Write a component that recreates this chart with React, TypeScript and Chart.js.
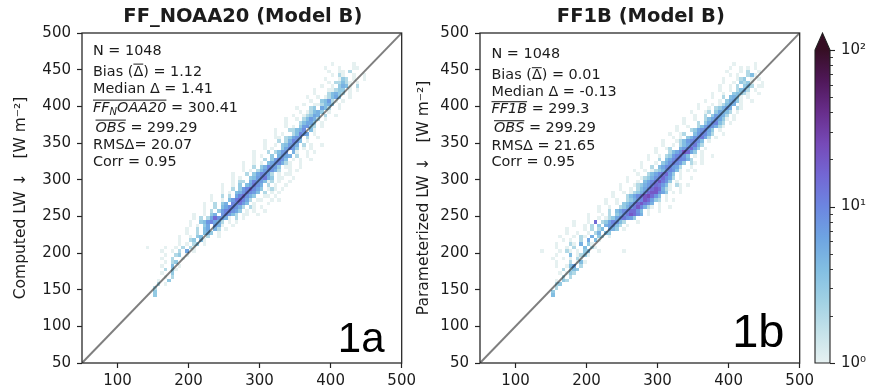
import React, { useEffect, useRef } from 'react';
import { Chart, registerables } from 'chart.js';

Chart.register(...registerables);

const FONT = "'DejaVu Sans', 'Noto Sans', sans-serif";
const PANEL_FONT = "'Liberation Sans', Arial, sans-serif";
const TEXT_COLOR = '#1c1c1c';

// ---------- axes ----------
const AXIS_MIN = 50;
const AXIS_MAX = 500;
const BIN_WIDTH = 5;
const X_TICKS = [100, 200, 300, 400, 500];
const Y_TICKS = [50, 100, 150, 200, 250, 300, 350, 400, 450, 500];
const ONE_TO_ONE = [50, 500];

// ---------- colorbar ----------
const CBAR_MIN = 1;
const CBAR_MAX = 100;
const CBAR_MAJOR = [1, 10, 100];
const CBAR_MAJOR_LABELS = ['10⁰', '10¹', '10²'];
const CBAR_MINOR = [2, 3, 4, 5, 6, 7, 8, 9, 20, 30, 40, 50, 60, 70, 80, 90];

// cmocean "dense"-like colormap stops: [fraction, r, g, b]
const CMAP_STOPS: [number, number, number, number][] = [
  [0.0, 230, 241, 241],
  [0.1, 196, 226, 233],
  [0.2, 160, 209, 228],
  [0.3, 130, 190, 226],
  [0.4, 110, 164, 226],
  [0.5, 108, 134, 224],
  [0.6, 115, 103, 212],
  [0.7, 118, 74, 184],
  [0.8, 104, 46, 140],
  [0.9, 80, 24, 90],
  [1.0, 54, 14, 36],
];

// count codes in the row strings: '.' empty, digits = counts, letters = larger counts
const COUNT_CODES: Record<string, number> = { a: 10, b: 12, c: 15, d: 20, e: 25, f: 30 };

// ---------- 2D histogram rows: [y bin low edge, x of first bin, counts per 5-W bin] ----------
const ROWS_A: [number, number, string][] = [
  [455, 400, '1.....1'],
  [450, 390, '1...1...11'],
  [445, 395, '1..11.2'],
  [440, 395, '.1.21..1..1'],
  [435, 390, '1...132.1..1'],
  [430, 385, '..1.22421.1'],
  [425, 385, '1..1.3541.2'],
  [420, 375, '1...11233.1.1'],
  [415, 370, '.1...24532.1'],
  [410, 365, '1..1.12463..1'],
  [405, 360, '..1..34721.1'],
  [400, 355, '.1..112453.1'],
  [395, 350, '1...23.642..1'],
  [390, 345, '..1.12453.1'],
  [385, 340, '.1..12365.2..1'],
  [380, 335, '1..1.24752.1'],
  [375, 330, '.1...24663.1'],
  [370, 325, '..1.1.37832.1'],
  [365, 320, '1...22459.41'],
  [360, 315, '.1.1..24a76.1'],
  [355, 310, '..11.23687.2..1'],
  [350, 305, '1...2.25a84.1'],
  [345, 300, '.1..1.34785.2.1..1'],
  [340, 295, '..1.1..36a73.1.1'],
  [335, 290, '1...2.2478.51..1.1'],
  [330, 285, '.1.1..3.5865.2..1'],
  [325, 280, '..1..2.37a84.1.1..1'],
  [320, 275, '1..1.1.4689521..1'],
  [315, 270, '.1..2.35a873.11..1'],
  [310, 265, '..1.1.2479852..1.1'],
  [305, 260, '1...2.36a962.1.11'],
  [300, 255, '.1.1..3479b53.11..1'],
  [295, 250, '..1.22.5a87412.1..1'],
  [290, 245, '1..1.3.46b85.2.1..1'],
  [285, 240, '.1..2.37ac963.121.1'],
  [280, 235, '..1.1.458b974.2.1.1'],
  [275, 230, '1..2.2.6ac853..11.1'],
  [270, 225, '.1..1.47bca62.11..1.1'],
  [265, 220, '1..2.35.a8b74.1...1'],
  [260, 215, '.1..2.469a852.21.1'],
  [255, 210, '..1.2.37ab863.1.1..1'],
  [250, 205, '1..1.35.8a742.11..1'],
  [245, 200, '.1.2.26c8751.2.1'],
  [240, 200, '1..348a652.1.1'],
  [235, 195, '.1.1.36.751..1'],
  [230, 195, '1..2.46.52.1'],
  [225, 190, '.1..2.453.1'],
  [220, 185, '1..1.34.2..1'],
  [215, 180, '.1..23.41'],
  [210, 175, '..1.1.23.1'],
  [205, 140, '1....1..1.2.21'],
  [200, 160, '1..1.2.6.1'],
  [195, 160, '.1..23.1'],
  [190, 160, '1..2..1'],
  [185, 160, '.1.23'],
  [180, 160, '1..4.1'],
  [175, 160, '.2.31'],
  [170, 160, '1..3'],
  [165, 160, '.1.2'],
  [160, 155, '1..3'],
  [155, 155, '2.1'],
  [150, 150, '2'],
  [145, 150, '3'],
  [140, 150, '3'],
];

const ROWS_B: [number, number, string][] = [
  [455, 405, '1.....1'],
  [450, 400, '1..1.1.1'],
  [445, 395, '1...1.2..1'],
  [440, 395, '.1.1..241'],
  [435, 390, '1...123.1.1'],
  [430, 385, '.1..1.3231..1'],
  [425, 385, '1..1.2.342.11'],
  [420, 380, '.1..1.2452.1'],
  [415, 375, '1..1..34321..1'],
  [410, 370, '.1..2.4541.1'],
  [405, 365, '1...1.35631..1'],
  [400, 355, '1...1.12465.1'],
  [395, 350, '.1..1.23575.21'],
  [390, 345, '1...12.36542.1'],
  [385, 340, '..1..2.37652.1'],
  [380, 335, '1..1..2468631.1'],
  [375, 330, '.1...2.369a42.1'],
  [370, 325, '1..1..24798521'],
  [365, 320, '.1...2368a63.1'],
  [360, 315, '1..12..47a952..1'],
  [355, 310, '..1.1.3589b62.1'],
  [350, 305, '1...12479a84.1'],
  [345, 300, '.1..1.2469b52'],
  [340, 295, '1..12..57ac73.1'],
  [335, 290, '.1...2469dc63.1'],
  [330, 285, '1..1.237ab84.1.1..1'],
  [325, 280, '.1..2.469ba952..1'],
  [320, 275, '1...1.358b973.21.1'],
  [315, 270, '.1..2.469a762..1'],
  [310, 265, '1..1.12358a841.1.1'],
  [305, 260, '..1..2469bc73.1'],
  [300, 255, '1...12358ac962.1..1'],
  [295, 250, '.1..1.469bdb83.1'],
  [290, 245, '1...12357acb741.21.1'],
  [285, 240, '.1..1.2469cdc521..1'],
  [280, 235, '1..1.12358cdd963.1.1'],
  [275, 230, '.1...2469bdec84.1'],
  [270, 225, '1..1..2358adc732.1.1'],
  [265, 220, '.1..1.3469cdb95.1'],
  [260, 215, '1..1..2358bda521.1..1'],
  [255, 210, '.1..2.469acc84.1..1'],
  [250, 200, '1...1.2.358bdc95.1'],
  [245, 195, '.1..1.12369b873'],
  [240, 180, '1...1.c.236a842...1'],
  [235, 175, '.1..1.2.3.57842.1'],
  [230, 170, '1....1.2.24.653.1'],
  [225, 165, '.1..1..1.25.43'],
  [220, 160, '1...1.21.5.32.1'],
  [215, 160, '.1.1..2.6.41'],
  [210, 155, '1...21.5.31'],
  [205, 150, '.1..1.2..4.21'],
  [200, 135, '1....1.21.1.34..1......1'],
  [195, 150, '.1...4.1231'],
  [190, 150, '1..1.1.21'],
  [185, 150, '.1...2.141'],
  [180, 155, '1..146.2'],
  [175, 160, '.2.243'],
  [170, 160, '1.132'],
  [165, 160, '.2.2'],
  [160, 155, '1.32'],
  [155, 155, '23'],
  [150, 150, '.2'],
  [145, 150, '3'],
  [140, 150, '4'],
];

// ---------- texts ----------
type Seg = { t: string; it?: boolean; sub?: boolean; ov?: boolean; dx?: number };

const TITLE_A = 'FF_NOAA20 (Model B)';
const TITLE_B = 'FF1B (Model B)';
const YLABEL_A = 'Computed LW ↓   [W m⁻²]';
const YLABEL_B = 'Parameterized LW ↓   [W m⁻²]';
const PANEL_A = '1a';
const PANEL_B = '1b';

const STATS_A: Seg[][] = [
  [{ t: 'N = 1048' }],
  [{ t: 'Bias (' }, { t: 'Δ', ov: true }, { t: ') = 1.12' }],
  [{ t: 'Median Δ = 1.41' }],
  [{ t: 'FF', it: true, ov: true }, { t: 'N', it: true, sub: true, ov: true }, { t: 'OAA20', it: true, ov: true }, { t: ' = 300.41' }],
  [{ t: '', dx: 2.5 }, { t: 'OBS', it: true, ov: true }, { t: ' = 299.29' }],
  [{ t: 'RMSΔ= 20.07' }],
  [{ t: 'Corr = 0.95' }],
];

const STATS_B: Seg[][] = [
  [{ t: 'N = 1048' }],
  [{ t: 'Bias (' }, { t: 'Δ', ov: true }, { t: ') = 0.01' }],
  [{ t: 'Median Δ = -0.13' }],
  [{ t: 'FF1B', it: true, ov: true }, { t: ' = 299.3' }],
  [{ t: '', dx: 2.5 }, { t: 'OBS', it: true, ov: true }, { t: ' = 299.29' }],
  [{ t: 'RMSΔ = 21.65' }],
  [{ t: 'Corr = 0.95' }],
];

// ---------- helpers ----------
function cmap(f: number): string {
  const t = Math.max(0, Math.min(1, f));
  for (let i = 1; i < CMAP_STOPS.length; i++) {
    const [t1, r1, g1, b1] = CMAP_STOPS[i];
    const [t0, r0, g0, b0] = CMAP_STOPS[i - 1];
    if (t <= t1) {
      const u = (t - t0) / (t1 - t0);
      return `rgb(${Math.round(r0 + (r1 - r0) * u)},${Math.round(g0 + (g1 - g0) * u)},${Math.round(b0 + (b1 - b0) * u)})`;
    }
  }
  const l = CMAP_STOPS[CMAP_STOPS.length - 1];
  return `rgb(${l[1]},${l[2]},${l[3]})`;
}

function decodeCount(ch: string): number {
  if (ch === '.') return 0;
  if (ch >= '0' && ch <= '9') return Number(ch);
  return COUNT_CODES[ch] || 0;
}

function countFraction(n: number): number {
  return (Math.log10(n) - Math.log10(CBAR_MIN)) / (Math.log10(CBAR_MAX) - Math.log10(CBAR_MIN));
}

function drawSegs(ctx: CanvasRenderingContext2D, segs: Seg[], x: number, baseline: number, size: number) {
  let cx = x;
  const runs: [number, number][] = [];
  let ovStart: number | null = null;
  let ovEnd = 0;
  for (const s of segs) {
    cx += s.dx || 0;
    const fs = s.sub ? size * 0.7 : size;
    ctx.font = `${s.it ? 'italic ' : ''}${fs}px ${FONT}`;
    const y = s.sub ? baseline + size * 0.22 : baseline;
    ctx.fillText(s.t, cx, y);
    const w = ctx.measureText(s.t).width;
    if (s.ov) {
      if (ovStart === null) ovStart = cx;
      ovEnd = cx + w;
    } else if (ovStart !== null) {
      runs.push([ovStart, ovEnd]);
      ovStart = null;
    }
    cx += w;
  }
  if (ovStart !== null) runs.push([ovStart, ovEnd]);
  for (const [a, b] of runs) ctx.fillRect(a, baseline - size * 0.84, b - a, 1);
}

type PanelSpec = {
  rows: [number, number, string][];
  title: string;
  ylabel: string;
  ylabelPad: number;
  stats: Seg[][];
  statsDx: number;
  statsBaselines: number[];
  panel: string;
  panelSize: number;
  panelRight: number;
  panelBaseline: number;
};

const SPEC_A: PanelSpec = {
  rows: ROWS_A,
  title: TITLE_A,
  ylabel: YLABEL_A,
  ylabelPad: 12,
  stats: STATS_A,
  statsDx: 11,
  statsBaselines: [22, 42.7, 60.3, 78.7, 98.7, 116.3, 132.7],
  panel: PANEL_A,
  panelSize: 42,
  panelRight: 302.5,
  panelBaseline: 319,
};

const SPEC_B: PanelSpec = {
  rows: ROWS_B,
  title: TITLE_B,
  ylabel: YLABEL_B,
  ylabelPad: 17,
  stats: STATS_B,
  statsDx: 11.5,
  statsBaselines: [25.3, 46.3, 63, 80.3, 99.3, 117, 133],
  panel: PANEL_B,
  panelSize: 47,
  panelRight: 304.5,
  panelBaseline: 314,
};

function panelConfig(spec: PanelSpec): any {
  const heatmap = {
    id: 'heatmap',
    beforeDatasetsDraw(chart: any) {
      const { ctx, chartArea: a, scales } = chart;
      const xs = scales.x;
      const ys = scales.y;
      ctx.save();
      ctx.beginPath();
      ctx.rect(a.left, a.top, a.right - a.left, a.bottom - a.top);
      ctx.clip();
      for (const [yLow, xStart, pattern] of spec.rows) {
        for (let i = 0; i < pattern.length; i++) {
          const n = decodeCount(pattern[i]);
          if (!n) continue;
          const xLow = xStart + i * BIN_WIDTH;
          const px0 = Math.round(xs.getPixelForValue(xLow));
          const px1 = Math.round(xs.getPixelForValue(xLow + BIN_WIDTH));
          const py0 = Math.round(ys.getPixelForValue(yLow + BIN_WIDTH));
          const py1 = Math.round(ys.getPixelForValue(yLow));
          ctx.fillStyle = cmap(countFraction(n));
          ctx.fillRect(px0, py0, px1 - px0, py1 - py0);
        }
      }
      ctx.restore();
    },
  };
  const frame = {
    id: 'frame',
    afterDatasetsDraw(chart: any) {
      const { ctx, chartArea: a } = chart;
      ctx.save();
      ctx.strokeStyle = '#2a2a2a';
      ctx.lineWidth = 1.3;
      ctx.strokeRect(a.left, a.top, a.right - a.left, a.bottom - a.top);
      ctx.restore();
    },
  };
  const annot = {
    id: 'annot',
    afterDraw(chart: any) {
      const { ctx, chartArea: a } = chart;
      ctx.save();
      ctx.fillStyle = TEXT_COLOR;
      ctx.textBaseline = 'alphabetic';
      ctx.textAlign = 'center';
      ctx.font = `bold 19.5px ${FONT}`;
      ctx.fillText(spec.title, (a.left + a.right) / 2 + 1, a.top - 11.5);
      ctx.textAlign = 'left';
      spec.stats.forEach((segs, i) => drawSegs(ctx, segs, a.left + spec.statsDx, a.top + spec.statsBaselines[i], 14.4));
      ctx.fillStyle = '#000';
      ctx.textAlign = 'right';
      ctx.font = `${spec.panelSize}px ${PANEL_FONT}`;
      ctx.fillText(spec.panel, a.left + spec.panelRight, a.top + spec.panelBaseline);
      ctx.restore();
    },
  };
  return {
    type: 'scatter',
    data: {
      datasets: [
        {
          data: ONE_TO_ONE.map((v) => ({ x: v, y: v })),
          showLine: true,
          borderColor: 'rgba(0,0,0,0.5)',
          borderWidth: 2,
          pointRadius: 0,
          fill: false,
        },
      ],
    },
    options: {
      animation: false,
      responsive: false,
      devicePixelRatio: 1,
      layout: { padding: { top: 33, right: 8, left: 0, bottom: 0 } },
      plugins: { legend: { display: false }, tooltip: { enabled: false }, title: { display: false } },
      scales: {
        x: {
          type: 'linear',
          min: AXIS_MIN,
          max: AXIS_MAX,
          afterBuildTicks: (s: any) => {
            s.ticks = X_TICKS.map((value) => ({ value }));
          },
          afterFit: (s: any) => {
            s.height = 26;
          },
          grid: { drawOnChartArea: false, drawTicks: true, tickLength: 5, tickColor: '#222', tickWidth: 1.2 },
          border: { display: false },
          ticks: { font: { family: FONT, size: 15 }, color: TEXT_COLOR, padding: 4, maxRotation: 0, autoSkip: false },
        },
        y: {
          type: 'linear',
          min: AXIS_MIN,
          max: AXIS_MAX,
          afterBuildTicks: (s: any) => {
            s.ticks = Y_TICKS.map((value) => ({ value }));
          },
          afterFit: (s: any) => {
            s.width = 82;
          },
          grid: { drawOnChartArea: false, drawTicks: true, tickLength: 5, tickColor: '#222', tickWidth: 1.2 },
          border: { display: false },
          ticks: { font: { family: FONT, size: 15 }, color: TEXT_COLOR, padding: 6, autoSkip: false },
          title: {
            display: true,
            text: spec.ylabel,
            font: { family: FONT, size: 15.5 },
            color: TEXT_COLOR,
            padding: { top: spec.ylabelPad, bottom: 0 },
          },
        },
      },
    },
    plugins: [heatmap, frame, annot],
  };
}

function colorbarConfig(): any {
  const bar = {
    id: 'colorbar',
    afterDraw(chart: any) {
      const { ctx, chartArea: a, scales } = chart;
      const ys = scales.y;
      ctx.save();
      const g = ctx.createLinearGradient(0, a.bottom, 0, a.top);
      CMAP_STOPS.forEach(([t, r, gg, b]) => g.addColorStop(t, `rgb(${r},${gg},${b})`));
      ctx.fillStyle = g;
      ctx.fillRect(a.left, a.top, a.right - a.left, a.bottom - a.top);
      const mid = (a.left + a.right) / 2;
      const tip = a.top - 17;
      ctx.beginPath();
      ctx.moveTo(a.left, a.top);
      ctx.lineTo(mid, tip);
      ctx.lineTo(a.right, a.top);
      ctx.closePath();
      ctx.fillStyle = cmap(1);
      ctx.fill();
      ctx.beginPath();
      ctx.moveTo(a.left, a.bottom);
      ctx.lineTo(a.left, a.top);
      ctx.lineTo(mid, tip);
      ctx.lineTo(a.right, a.top);
      ctx.lineTo(a.right, a.bottom);
      ctx.closePath();
      ctx.strokeStyle = '#222';
      ctx.lineWidth = 1.1;
      ctx.stroke();
      ctx.lineWidth = 1.1;
      CBAR_MAJOR.forEach((v) => {
        const py = Math.round(ys.getPixelForValue(v)) + 0.5;
        ctx.beginPath();
        ctx.moveTo(a.right, py);
        ctx.lineTo(a.right + 5, py);
        ctx.stroke();
      });
      ctx.lineWidth = 0.9;
      CBAR_MINOR.forEach((v) => {
        const py = Math.round(ys.getPixelForValue(v)) + 0.5;
        ctx.beginPath();
        ctx.moveTo(a.right, py);
        ctx.lineTo(a.right + 3, py);
        ctx.stroke();
      });
      ctx.restore();
    },
  };
  return {
    type: 'scatter',
    data: { datasets: [] },
    options: {
      animation: false,
      responsive: false,
      devicePixelRatio: 1,
      layout: { padding: { top: 50, bottom: 26, left: 15, right: 0 } },
      plugins: { legend: { display: false }, tooltip: { enabled: false } },
      scales: {
        x: { display: false, min: 0, max: 1 },
        y: {
          type: 'logarithmic',
          position: 'right',
          min: CBAR_MIN,
          max: CBAR_MAX,
          afterBuildTicks: (s: any) => {
            s.ticks = [...CBAR_MAJOR, ...CBAR_MINOR].sort((p, q) => p - q).map((value) => ({ value }));
          },
          afterFit: (s: any) => {
            s.width = 40;
          },
          grid: { display: false, drawTicks: false, tickLength: 0 },
          border: { display: false },
          ticks: {
            autoSkip: false,
            padding: 11,
            font: { family: FONT, size: 15 },
            color: TEXT_COLOR,
            callback: (v: any) => {
              const i = CBAR_MAJOR.indexOf(Number(v));
              return i >= 0 ? CBAR_MAJOR_LABELS[i] : '';
            },
          },
        },
      },
    },
    plugins: [bar],
  };
}

export default function App() {
  const refA = useRef<HTMLCanvasElement>(null);
  const refB = useRef<HTMLCanvasElement>(null);
  const refC = useRef<HTMLCanvasElement>(null);

  useEffect(() => {
    const charts = [
      new Chart(refA.current as HTMLCanvasElement, panelConfig(SPEC_A)),
      new Chart(refB.current as HTMLCanvasElement, panelConfig(SPEC_B)),
      new Chart(refC.current as HTMLCanvasElement, colorbarConfig()),
    ];
    return () => charts.forEach((c) => c.destroy());
  }, []);

  const canvasStyle = (left: number, width: number): React.CSSProperties => ({
    position: 'absolute',
    left,
    top: 0,
    width,
    height: 389,
    display: 'block',
  });

  return (
    <div style={{ position: 'fixed', left: 0, top: 0, width: 870, height: 389, background: '#fff', overflow: 'hidden' }}>
      <canvas ref={refA} width={420} height={389} style={canvasStyle(0, 420)} />
      <canvas ref={refB} width={420} height={389} style={canvasStyle(398, 420)} />
      <canvas ref={refC} width={70} height={389} style={canvasStyle(800, 70)} />
    </div>
  );
}
